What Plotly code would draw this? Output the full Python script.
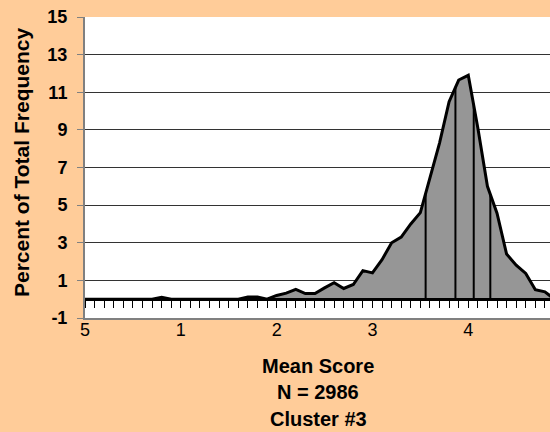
import numpy as np
import plotly.graph_objects as go

# ---- data ----
score_x = [0.0, 0.1, 0.2, 0.3, 0.4, 0.5, 0.6, 0.7, 0.8, 0.9,
           1.0, 1.1, 1.2, 1.3, 1.4, 1.5, 1.6, 1.7, 1.8, 1.9,
           2.0, 2.1, 2.2, 2.3, 2.4, 2.5, 2.6, 2.7, 2.8, 2.9,
           3.0, 3.1, 3.2, 3.3, 3.4, 3.5, 3.6, 3.7, 3.8, 3.9,
           4.0, 4.1, 4.2, 4.3, 4.4, 4.5, 4.6, 4.7, 4.8, 4.9]
pct = [0, 0, 0, 0, 0, 0, 0, 0, 0.1, 0,
       0, 0, 0, 0, 0, 0, 0, 0.12, 0.12, 0,
       0.2, 0.32, 0.52, 0.3, 0.3, 0.6, 0.88, 0.57, 0.78, 1.52,
       1.4, 2.1, 3.0, 3.3, 4.0, 4.6, 6.4, 8.3, 10.5, 11.65,
       11.9, 9.1, 6.0, 4.57, 2.4, 1.81, 1.37, 0.5, 0.39, 0.0]
stat_x = [3.555, 3.866, 4.057, 4.23]   # vertical marker lines
x_tickvals = [0, 1, 2, 3, 4]
x_ticktext = ["5", "1", "2", "3", "4"]
y_tickvals = [-1, 1, 3, 5, 7, 9, 11, 13, 15]
y_ticktext = ["-1", "1", "3", "5", "7", "9", "11", "13", "15"]
title_lines = ["Mean Score", "N = 2986", "Cluster #3"]

FONT = "Liberation Sans, Arial, sans-serif"
XR = [0, 4.853]

fig = go.Figure()

fig.add_trace(go.Scatter(
    x=score_x, y=pct, mode="lines", fill="tozeroy",
    fillcolor="#969696", line=dict(color="black", width=3),
    hoverinfo="skip", showlegend=False))

vx, vy = [], []
for s in stat_x:
    h = float(np.interp(s, score_x, pct))
    vx += [s, s, None]
    vy += [0, h, None]
fig.add_trace(go.Scatter(
    x=vx, y=vy, mode="lines", line=dict(color="black", width=2),
    xaxis="x2", hoverinfo="skip", showlegend=False))

fig.update_layout(
    width=550, height=432,
    margin=dict(l=85, r=0, t=17, b=114),
    paper_bgcolor="#FFCC99", plot_bgcolor="white",
    font=dict(family=FONT, color="black"),
    xaxis=dict(range=XR, tickvals=x_tickvals, ticktext=x_ticktext,
               tickfont=dict(size=18), ticks="", showgrid=False,
               ticklabelstandoff=-6,
               zeroline=False, showline=True, linecolor="#808080",
               linewidth=2),
    xaxis2=dict(range=XR, overlaying="x", anchor="free", position=1/16,
                side="bottom", showline=True, linecolor="black",
                linewidth=3, ticks="outside", ticklen=7, tickwidth=1,
                tickcolor="black", tick0=0, dtick=0.1,
                showticklabels=False, showgrid=False, zeroline=False),
    yaxis=dict(range=[-1, 15], tickvals=y_tickvals, ticktext=y_ticktext,
               tickfont=dict(size=18, family=FONT, weight="bold"),
               ticks="outside", ticklen=6, tickcolor="#808080",
               ticklabelstandoff=6,
               showgrid=True, gridcolor="#333333", gridwidth=1,
               zeroline=False, showline=True, linecolor="#808080",
               linewidth=2),
)

fig.add_annotation(
    text="<b>Percent of Total Frequency</b>", textangle=-90,
    xref="paper", yref="paper", x=(21 - 85) / 465, y=(318 - 163) / 301,
    xanchor="center", yanchor="middle", showarrow=False,
    font=dict(size=21, family=FONT))

for i, line in enumerate(title_lines):
    py = 366 + i * 26.3
    fig.add_annotation(
        text="<b>" + line + "</b>", xref="paper", yref="paper",
        x=(318 - 85) / 465, y=(318 - py) / 301,
        xanchor="center", yanchor="middle", showarrow=False,
        font=dict(size=20, family=FONT))

fig.write_html("out.html",
               config={"displayModeBar": False},
               post_script="document.body.style.margin='0';document.body.style.overflow='hidden';")
